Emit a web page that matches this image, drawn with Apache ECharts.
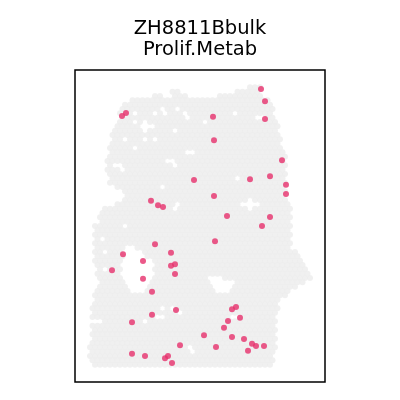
<!DOCTYPE html>
<html>
<head>
<meta charset="utf-8">
<script src="https://cdn.jsdelivr.net/npm/echarts@6/dist/echarts.min.js"></script>
<style>html,body{margin:0;padding:0;background:#fff}#c{width:400px;height:400px}</style>
</head>
<body>
<div id="c"></div>
<script>
// Sample / feature names
const sampleName = 'ZH8811Bbulk';
const featureName = 'Prolif.Metab';

// Tissue spots on a hex (Visium-like) array: [row, [colStart, colEnd], ...]
const tissueRows = [
  [4,[70,74]],
  [5,[39,41],[65,74]],
  [6,[31,35],[40,44],[58,75]],
  [7,[22,77]],[8,[20,79]],[9,[19,80]],[10,[18,80]],[11,[18,80]],[12,[17,80]],
  [13,[16,81]],[14,[16,81]],[15,[15,81]],[16,[15,82]],[17,[15,82]],[18,[14,82]],
  [19,[14,83]],[20,[14,84]],[21,[13,84]],[22,[13,84]],[23,[13,84]],[24,[13,84]],
  [25,[14,84]],[26,[14,84]],[27,[16,84]],[28,[19,84]],[29,[20,84]],[30,[20,85]],
  [31,[17,85]],[32,[12,86]],[33,[11,86]],[34,[10,86]],[35,[10,86]],[36,[8,86]],
  [37,[8,86]],[38,[8,86]],[39,[8,86]],[40,[8,86]],[41,[8,86]],[42,[8,88]],
  [43,[8,89]],[44,[8,90]],[45,[8,91]],[46,[9,93]],[47,[9,94]],[48,[10,94]],
  [49,[10,91]],[50,[9,89]],[51,[9,86]],[52,[8,84]],[53,[8,82]],[54,[7,81]],
  [55,[7,81]],[56,[7,80]],[57,[7,80]],[58,[7,80]],[59,[7,80]],[60,[7,80]],
  [61,[7,80]],[62,[7,80]],[63,[6,80]],[64,[6,80]],[65,[6,80]],[66,[6,79]],
  [67,[6,79]],[68,[8,78]]
];

// Larger gaps without tissue: [row, colStart, colEnd]
const gapRows = [
  [41,21,24],[42,20,27],[43,20,28],[44,19,30],[45,19,31],[46,19,31],[47,19,31],
  [48,19,31],[49,20,30],[50,21,29],[51,23,27],
  [48,54,59],[49,54,63],[50,55,63],[51,56,61]
];

// Single missing spots: [col, row]
const gapSpots = [
  [24.8,9.7],[23.2,12.2],[26.8,13.2],[28.8,13.2],[30.8,13.2],[28.8,12],[28.8,14.3],
  [31.2,9.7],[35.2,9.2],[36.4,10.2],[39.2,14.3],[40.8,8.8],[43.2,9.7],[44.4,10.8],
  [28,15.7],[32.8,15.5],[19.2,16.2],[24.8,18],[46,18.5],[37.2,20.8],[39.2,20.8],
  [40,21.9],[15.2,21.5],[17.2,22.2],[18.8,22.8],[64.8,9.9],[52,12],[79.2,9.9],
  [74,10.8],[34.8,27.2],[41.2,30.7],[39.2,31.8],[19.2,36.2],[11.2,38.8],[11.2,42],
  [11.2,45.7],[65.2,25.4],[70,30.7],[68,30.7],[72,30.7],[70,29.5],[70,31.8],
  [35.2,54.9],[38.8,54.9],[34,56.5],[27.2,57.7],[42,56.1],[8.8,57.7],[10.8,57.7],
  [45.2,64.2],[47.2,65.1],[64,57]
];

// Highlighted (Prolif.Metab) spots: [col, row]
const highlightSpots = [
  [18.8,10.6],[20.4,9.9],[74.4,4.4],[76,7.2],[55.2,10.8],[76,11.3],[55.6,16.2],
  [82.8,20.8],[78,24.5],[70,25.2],[47.6,25.4],[84.4,26.5],[84.4,28.6],[30.4,30.2],
  [33.2,31.2],[35.2,31.6],[55.6,29.1],[60.8,33.7],[78,33.9],[74.8,36],[32,40.2],
  [56,39.5],[19.2,42.5],[38.4,42.2],[27.2,44.1],[40,44.8],[38.4,45.2],[14.8,46.2],
  [40,47.1],[27.2,48.2],[30.8,51.2],[40.4,55.4],[30.8,56.5],[22.8,58.2],[42,63.5],
  [22.8,65.5],[28,66],[36,66.5],[37.2,66],[38.8,67.6],[62.8,55.2],[64.4,54.7],
  [61.2,57.9],[66,57.2],[59.6,59.5],[51.6,61.2],[62.8,61.6],[67.6,62.1],[56.4,63.9],
  [70.8,63.2],[72.4,63.7],[75.6,63.7],[69.2,64.8]
];

// Build tissue spot list from the row spans
const tissue = [];
tissueRows.forEach(function (row) {
  const r = row[0];
  for (let s = 1; s < row.length; s++) {
    for (let c = row[s][0]; c <= row[s][1]; c++) {
      if ((c % 2) !== (r % 2)) continue;
      const inGap = gapRows.some(g => g[0] === r && c >= g[1] && c <= g[2]);
      if (inGap) continue;
      const isMissing = gapSpots.some(h => Math.round(h[1]) === r && Math.abs(h[0] - c) < 1.01);
      if (isMissing) continue;
      tissue.push([c, r]);
    }
  }
});

const chart = echarts.init(document.getElementById('c'), null, {renderer: 'canvas'});
chart.setOption({
  animation: false,
  backgroundColor: '#ffffff',
  title: {
    text: sampleName + '\n' + featureName,
    left: 'center',
    top: 13,
    textStyle: {
      fontFamily: 'DejaVu Sans',
      fontSize: 19.5,
      fontWeight: 'normal',
      color: '#000',
      lineHeight: 21
    }
  },
  grid: {
    left: 75, top: 70, width: 250, height: 312,
    show: true, borderColor: '#000', borderWidth: 1.5, backgroundColor: 'transparent'
  },
  xAxis: {
    type: 'value', min: 0, max: 100,
    show: false
  },
  yAxis: {
    type: 'value', min: 0, max: 72, inverse: true,
    show: false
  },
  series: [
    {
      type: 'scatter',
      data: tissue,
      symbolSize: 6,
      itemStyle: {color: '#ececec'},
      silent: true,
      large: false,
      progressive: 0,
      z: 1
    },
    {
      type: 'scatter',
      data: highlightSpots,
      symbolSize: 6,
      itemStyle: {color: '#e6306b'},
      silent: true,
      z: 2
    }
  ]
});
</script>
</body>
</html>
